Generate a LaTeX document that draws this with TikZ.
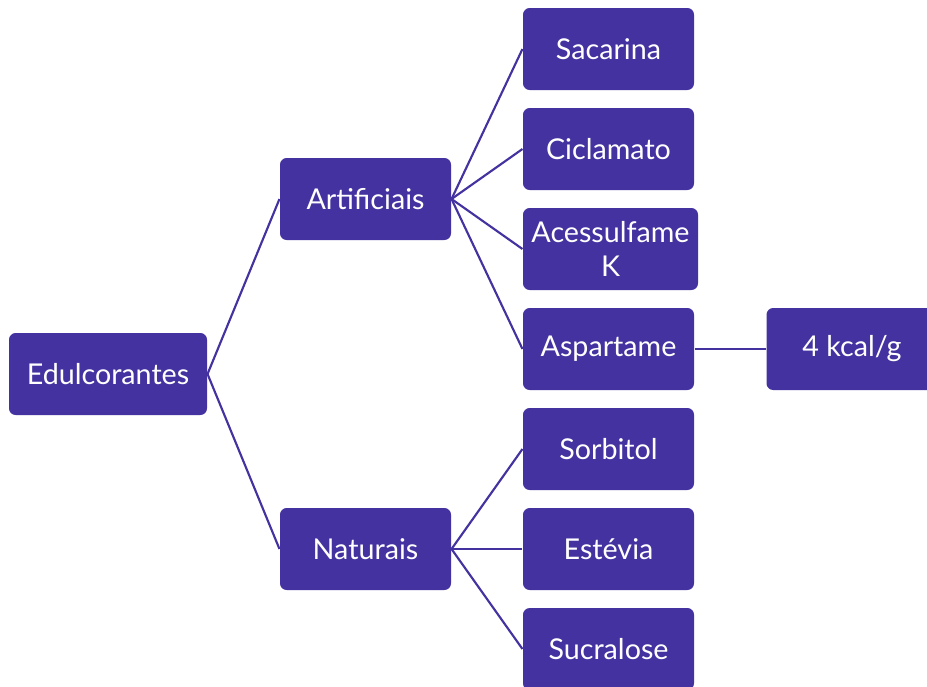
\documentclass[tikz,border=0pt]{standalone}
\usepackage{fontspec}
\setmainfont{Lato}
\usepackage{tikz}
\usetikzlibrary{positioning}
\definecolor{edpurple}{RGB}{68,50,160}
\tikzset{box/.style={draw=none, fill=edpurple, rounded corners=5, text=white, minimum width=128.25, minimum height=61.5, inner sep=1pt, align=center, font=\fontsize{21.5}{25.5}\selectfont}}
\tikzset{link/.style={draw=edpurple, line width=1.6}}

\begin{document}
\begin{tikzpicture}[x=0.75pt, y=-0.75pt, thick]
    \useasboundingbox (0, 0) rectangle (927, 686);
    \clip (0, 0) rectangle (927, 686);

    \coordinate (E) at (108, 374);
    \coordinate (A) at (365.5, 199);
    \coordinate (N) at (365.5, 549);
    \coordinate (K) at (852, 349);

    \node [box, minimum width=148.5] (edul) at (E) {Edulcorantes};
    \node [box] (artif) at (A) {Artificiais};
    \node [box] (natur) at (N) {Naturais};

    \node [box] (sacar) at (608.5, 49) {Sacarina};
    \node [box] (cicla) at (608.5, 149) {Ciclamato};
    \node [box, minimum width=131.25] (acess) at (610.5, 249) {Acessulfame\\K};
    \node [box] (aspar) at (608.5, 349) {Aspartame};
    \node [box] (sorbi) at (608.5, 449) {Sorbitol};
    \node [box] (estev) at (608.5, 549) {Estévia};
    \node [box] (sucra) at (608.5, 649) {Sucralose};
    \node [box] (kcal) at (K) {4 kcal/g};

    \draw [link] (edul.east) -- (artif.west);
    \draw [link] (edul.east) -- (natur.west);

    \foreach \leaf in {sacar, cicla, acess, aspar}
        \draw [link] (artif.east) -- (\leaf.west);
    \foreach \leaf in {sorbi, estev, sucra}
        \draw [link] (natur.east) -- (\leaf.west);

    \draw [link] (aspar.east) -- (kcal.west);
\end{tikzpicture}
\end{document}
